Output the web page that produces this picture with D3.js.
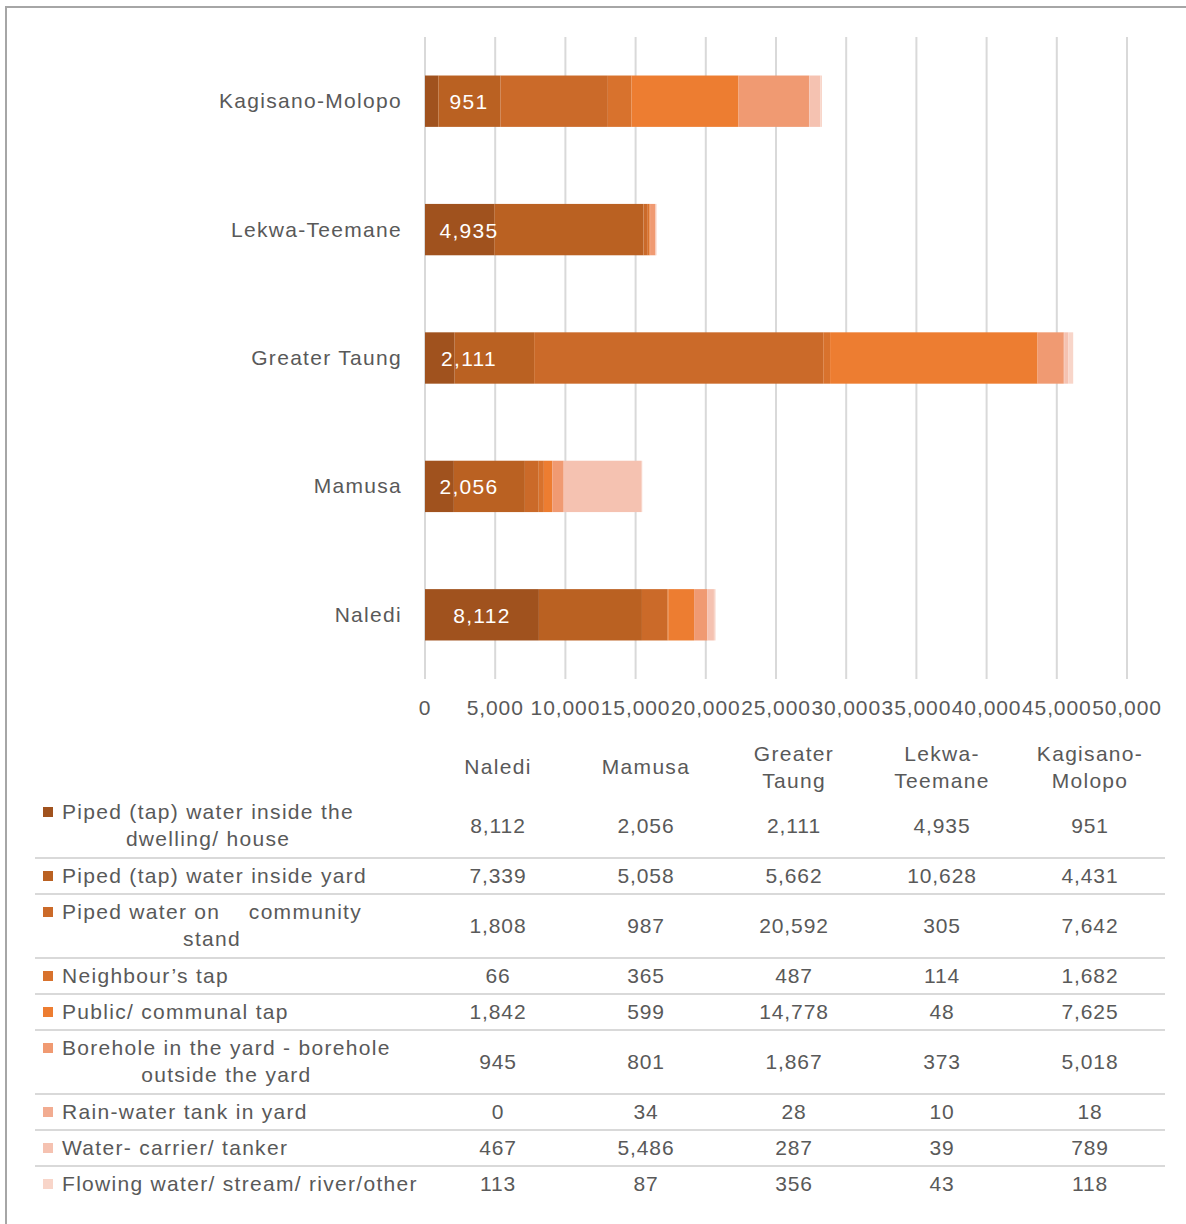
<!DOCTYPE html>
<html>
<head>
<meta charset="utf-8">
<script src="https://cdn.jsdelivr.net/npm/d3@7"></script>
<style>
  html, body { margin: 0; padding: 0; background: #fff; }
  svg { display: block; font-family: "Liberation Sans", Arial, sans-serif; }
  svg text { white-space: pre; }
</style>
</head>
<body>
<svg id="chart" width="1186" height="1224"></svg>
<script>
// Municipalities (table column order)
const municipalities = ["Naledi", "Mamusa", "Greater Taung", "Lekwa-Teemane", "Kagisano-Molopo"];
// Header text for the table columns (wrapped)
const headerLines = [["Naledi"], ["Mamusa"], ["Greater", "Taung"], ["Lekwa-", "Teemane"], ["Kagisano-", "Molopo"]];

// Source of water, one entry per series (label lines as wrapped in the table)
const sourceNames = [
  "Piped (tap) water inside the dwelling/ house",
  "Piped (tap) water inside yard",
  "Piped water on community stand",
  "Neighbour’s tap",
  "Public/ communal tap",
  "Borehole in the yard - borehole outside the yard",
  "Rain-water tank in yard",
  "Water- carrier/ tanker",
  "Flowing water/ stream/ river/other"
];
const sourceLines = [
  ["Piped (tap) water inside the", "dwelling/ house"],
  ["Piped (tap) water inside yard"],
  ["Piped water on    community", "stand"],
  ["Neighbour’s tap"],
  ["Public/ communal tap"],
  ["Borehole in the yard - borehole", "outside the yard"],
  ["Rain-water tank in yard"],
  ["Water- carrier/ tanker"],
  ["Flowing water/ stream/ river/other"]
];

// Households per source, values in municipality order
const pipedInsideDwelling = [8112, 2056, 2111, 4935, 951];
const pipedInsideYard     = [7339, 5058, 5662, 10628, 4431];
const communityStand      = [1808, 987, 20592, 305, 7642];
const neighboursTap       = [66, 365, 487, 114, 1682];
const publicTap           = [1842, 599, 14778, 48, 7625];
const borehole            = [945, 801, 1867, 373, 5018];
const rainTank            = [0, 34, 28, 10, 18];
const waterCarrier        = [467, 5486, 287, 39, 789];
const flowingWater        = [113, 87, 356, 43, 118];

const seriesValues = [pipedInsideDwelling, pipedInsideYard, communityStand, neighboursTap,
  publicTap, borehole, rainTank, waterCarrier, flowingWater];

const xTicks = [0, 5000, 10000, 15000, 20000, 25000, 30000, 35000, 40000, 45000, 50000];

const colors = ["#A0521E", "#BA6122", "#CB6A29", "#D8722D", "#ED7D31",
                "#F09A72", "#F2AC91", "#F5C2B1", "#F8D5C9"];

const textColor = "#595959";
const fontSize = 21;
const letterSp = "1.3px";

const svg = d3.select("#chart");

// Outer frame (top and left edges)
svg.append("path")
  .attr("d", "M6,1224 L6,7 L1186,7")
  .attr("fill", "none")
  .attr("stroke", "#a6a6a6")
  .attr("stroke-width", 2);

// Scales
const x = d3.scaleLinear().domain([0, 50000]).range([425, 1127]);
const yOrder = municipalities.slice().reverse();
const y = d3.scaleBand().domain(yOrder).range([37, 679]).paddingInner(0.6).paddingOuter(0.3);

// Gridlines
svg.append("g").selectAll("line").data(xTicks).join("line")
  .attr("x1", d => x(d)).attr("x2", d => x(d))
  .attr("y1", 37).attr("y2", 679)
  .attr("stroke", "#d9d9d9").attr("stroke-width", 2);

// Stack data
const rows = municipalities.map((m, i) => {
  const r = { name: m };
  sourceNames.forEach((s, j) => { r[s] = seriesValues[j][i]; });
  return r;
});
const stacked = d3.stack().keys(sourceNames)(rows);

const bars = svg.append("g");
stacked.forEach((layer, j) => {
  bars.append("g").attr("fill", colors[j]).selectAll("rect").data(layer).join("rect")
    .attr("x", d => x(d[0]))
    .attr("y", d => y(d.data.name))
    .attr("width", d => Math.max(0, x(d[1]) - x(d[0])))
    .attr("height", y.bandwidth());
});

// Data labels for the first series
const fmt = d3.format(",");
svg.append("g").selectAll("text").data(stacked[0]).join("text")
  .attr("x", d => x(0) + Math.max((x(d[1]) - x(d[0])) / 2, 44))
  .attr("y", d => y(d.data.name) + y.bandwidth() / 2 + 8)
  .attr("text-anchor", "middle")
  .attr("fill", "#ffffff")
  .attr("font-size", fontSize)
  .attr("letter-spacing", letterSp)
  .text(d => fmt(d.data[sourceNames[0]]));

// Category axis labels
svg.append("g").selectAll("text").data(yOrder).join("text")
  .attr("x", 402)
  .attr("y", d => y(d) + y.bandwidth() / 2 + 7)
  .attr("text-anchor", "end")
  .attr("fill", textColor)
  .attr("font-size", fontSize)
  .attr("letter-spacing", letterSp)
  .text(d => d);

// Value axis tick labels
svg.append("g").selectAll("text").data(xTicks).join("text")
  .attr("x", d => x(d))
  .attr("y", 715)
  .attr("text-anchor", "middle")
  .attr("fill", textColor)
  .attr("font-size", fontSize)
  .attr("letter-spacing", "0.9px")
  .text(d => fmt(d));

// Data table
const colX = d3.scalePoint().domain(municipalities).range([498, 1090]);
const table = svg.append("g");

// Header
headerLines.forEach((lines, i) => {
  const cy = lines.length === 1 ? 767 : 754;
  lines.forEach((ln, k) => {
    table.append("text")
      .attr("x", colX(municipalities[i]))
      .attr("y", cy + k * 27 + 7)
      .attr("text-anchor", "middle")
      .attr("fill", textColor)
      .attr("font-size", fontSize)
      .attr("letter-spacing", letterSp)
      .text(ln);
  });
});

// Body rows
let rowTop = 794;
sourceLines.forEach((lines, j) => {
  const h = lines.length === 1 ? 36 : 64;
  // legend key
  table.append("rect")
    .attr("x", 43).attr("y", rowTop + 18 - 5)
    .attr("width", 10).attr("height", 10)
    .attr("fill", colors[j]);
  // label lines: first left-aligned after the key, the rest centred under it
  const first = table.append("text")
    .attr("x", 62).attr("y", rowTop + 18 + 7)
    .attr("fill", textColor)
    .attr("font-size", fontSize)
    .attr("letter-spacing", letterSp)
    .text(lines[0]);
  const w = first.node().getComputedTextLength();
  lines.slice(1).forEach((ln, k) => {
    table.append("text")
      .attr("x", 62 + w / 2).attr("y", rowTop + 18 + 27 * (k + 1) + 7)
      .attr("text-anchor", "middle")
      .attr("fill", textColor)
      .attr("font-size", fontSize)
      .attr("letter-spacing", letterSp)
      .text(ln);
  });
  // values
  municipalities.forEach((m, i) => {
    table.append("text")
      .attr("x", colX(m))
      .attr("y", rowTop + h / 2 + 7)
      .attr("text-anchor", "middle")
      .attr("fill", textColor)
      .attr("font-size", fontSize)
      .attr("letter-spacing", "0.9px")
      .text(fmt(seriesValues[j][i]));
  });
  rowTop += h;
  if (j < sourceLines.length - 1) {
    table.append("line")
      .attr("x1", 35).attr("x2", 1165)
      .attr("y1", rowTop).attr("y2", rowTop)
      .attr("stroke", "#d9d9d9").attr("stroke-width", 2);
  }
});
</script>
</body>
</html>
